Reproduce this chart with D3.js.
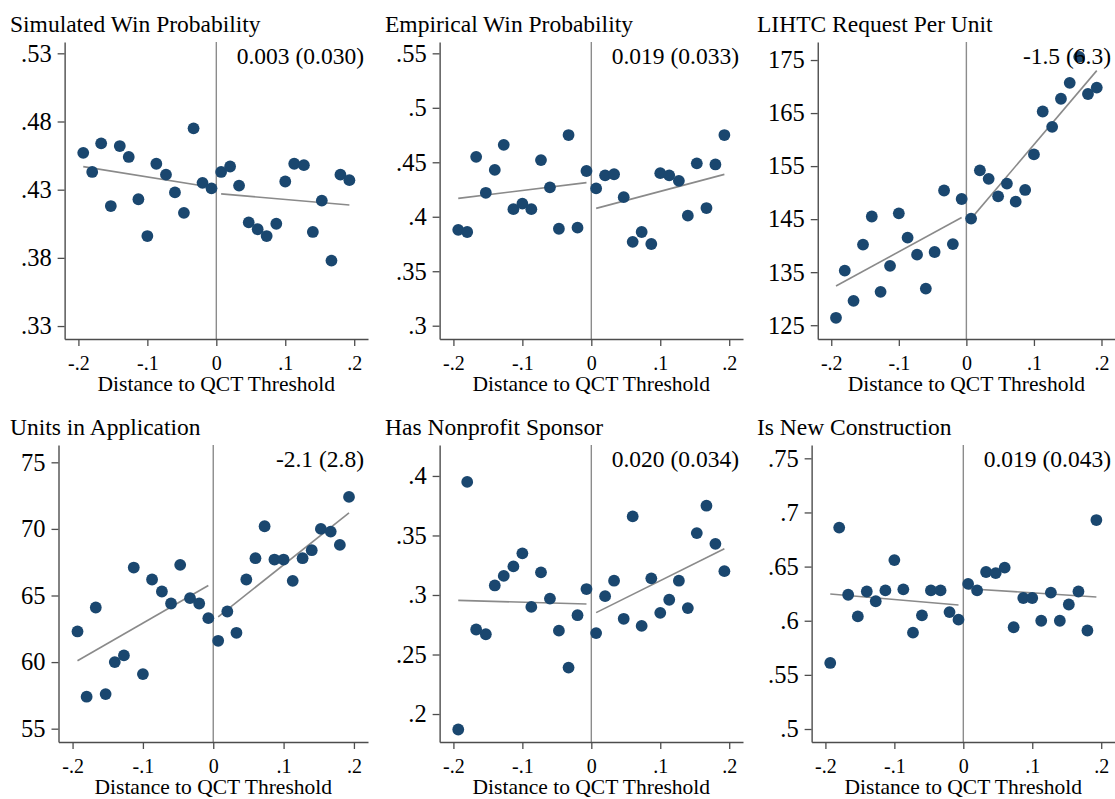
<!DOCTYPE html>
<html>
<head>
<meta charset="utf-8">
<script src="https://cdn.jsdelivr.net/npm/d3@7"></script>
<style>
  html, body { margin: 0; padding: 0; background: #fff; }
  svg { display: block; }
  text { font-family: "Liberation Serif", "Times New Roman", serif; fill: #000; }
</style>
</head>
<body>
<svg id="chart" width="1115" height="799"></svg>
<script>
// ---------------- DATA ----------------
const xBins = [-0.193, -0.180, -0.167, -0.153, -0.140, -0.127, -0.113, -0.100, -0.087, -0.073,
               -0.060, -0.047, -0.033, -0.020, -0.007, 0.007, 0.020, 0.033, 0.047, 0.060,
               0.073, 0.087, 0.100, 0.113, 0.127, 0.140, 0.153, 0.167, 0.180, 0.193];
const xTicks = [-0.2, -0.1, 0, 0.1, 0.2];
const xDomain = [-0.22, 0.22];
const xTitle = "Distance to QCT Threshold";

const titles = ["Simulated Win Probability", "Empirical Win Probability", "LIHTC Request Per Unit",
                "Units in Application", "Has Nonprofit Sponsor", "Is New Construction"];
const estimates = ["0.003 (0.030)", "0.019 (0.033)", "-1.5 (6.3)",
                   "-2.1 (2.8)", "0.020 (0.034)", "0.019 (0.043)"];

const simWinProb = [0.457, 0.443, 0.464, 0.418, 0.462, 0.454, 0.423, 0.396, 0.449, 0.441,
                    0.428, 0.413, 0.475, 0.435, 0.431, 0.443, 0.447, 0.433, 0.406, 0.401,
                    0.396, 0.405, 0.436, 0.449, 0.448, 0.399, 0.422, 0.378, 0.441, 0.437];
const empWinProb = [0.388, 0.386, 0.455, 0.422, 0.443, 0.466, 0.407, 0.412, 0.407, 0.452,
                    0.427, 0.389, 0.475, 0.390, 0.442, 0.426, 0.438, 0.439, 0.418, 0.377,
                    0.386, 0.375, 0.440, 0.438, 0.433, 0.401, 0.449, 0.408, 0.448, 0.475];
const lihtcRequest = [126.4, 135.3, 129.6, 140.2, 145.5, 131.3, 136.2, 146.1, 141.5, 138.3,
                      131.9, 138.8, 150.4, 140.3, 148.8, 145.1, 154.2, 152.6, 149.3, 151.7,
                      148.3, 150.5, 157.2, 165.3, 162.4, 167.7, 170.7, 175.6, 168.6, 169.8];
const unitsApp = [62.3, 57.4, 64.1, 57.6, 60.0, 60.5, 67.1, 59.1, 66.2, 65.3,
                  64.4, 67.3, 64.8, 64.4, 63.3, 61.6, 63.8, 62.2, 66.2, 67.8,
                  70.2, 67.7, 67.7, 66.1, 67.8, 68.4, 70.0, 69.8, 68.8, 72.4];
const nonprofit = [0.187, 0.395, 0.271, 0.267, 0.308, 0.316, 0.324, 0.335, 0.290, 0.319,
                   0.297, 0.270, 0.239, 0.283, 0.305, 0.268, 0.299, 0.312, 0.280, 0.366,
                   0.274, 0.314, 0.285, 0.296, 0.312, 0.289, 0.352, 0.375, 0.343, 0.320];
const newConstruction = [0.561, 0.686, 0.624, 0.604, 0.627, 0.618, 0.628, 0.656, 0.629, 0.589,
                         0.605, 0.628, 0.628, 0.608, 0.601, 0.634, 0.628, 0.645, 0.644, 0.649,
                         0.594, 0.621, 0.621, 0.600, 0.626, 0.600, 0.615, 0.627, 0.591, 0.693];

// linear fit end values: [left at first bin, left at last bin below 0, right at first bin above 0, right at last bin]
const fitSim = [0.4469, 0.4318, 0.4269, 0.4188];
const fitEmp = [0.4169, 0.4313, 0.4077, 0.4389];
const fitLihtc = [132.4, 145.3, 145.1, 173.0];
const fitUnits = [60.1, 65.75, 63.4, 71.2];
const fitNonprofit = [0.2955, 0.2924, 0.2852, 0.3389];
const fitNewCon = [0.6247, 0.6145, 0.6296, 0.6219];

const yTicksSim = [0.33, 0.38, 0.43, 0.48, 0.53];
const yTicksEmp = [0.3, 0.35, 0.4, 0.45, 0.5, 0.55];
const yTicksLihtc = [125, 135, 145, 155, 165, 175];
const yTicksUnits = [55, 60, 65, 70, 75];
const yTicksNonprofit = [0.2, 0.25, 0.3, 0.35, 0.4];
const yTicksNewCon = [0.5, 0.55, 0.6, 0.65, 0.7, 0.75];

const yDomSim = [0.3205, 0.5383];
const yDomEmp = [0.2878, 0.5604];
const yDomLihtc = [122.4, 178.4];
const yDomUnits = [54.0, 76.3];
const yDomNonprofit = [0.1765, 0.426];
const yDomNewCon = [0.488, 0.7623];

const panels = [
  { title: titles[0], est: estimates[0], y: simWinProb, fit: fitSim, ticks: yTicksSim, dom: yDomSim },
  { title: titles[1], est: estimates[1], y: empWinProb, fit: fitEmp, ticks: yTicksEmp, dom: yDomEmp },
  { title: titles[2], est: estimates[2], y: lihtcRequest, fit: fitLihtc, ticks: yTicksLihtc, dom: yDomLihtc },
  { title: titles[3], est: estimates[3], y: unitsApp, fit: fitUnits, ticks: yTicksUnits, dom: yDomUnits },
  { title: titles[4], est: estimates[4], y: nonprofit, fit: fitNonprofit, ticks: yTicksNonprofit, dom: yDomNonprofit },
  { title: titles[5], est: estimates[5], y: newConstruction, fit: fitNewCon, ticks: yTicksNewCon, dom: yDomNewCon }
];

// ---------------- LAYOUT ----------------
const cellX = [0, 375, 747];
const rowY = [0, 403];
const plotW = 368, plotTop = 42, plotBottom = 339;
const navy = "#1a476f";
const axisCol = "#4d4d4d";
const fmt = d => {
  if (d === 0) return "0";
  let s = String(+d.toFixed(4));
  return s.replace(/^(-?)0\./, "$1.");
};

const svg = d3.select("#chart");

function textWidth(str, size) {
  const t = svg.append("text").attr("font-size", size).text(str);
  const w = t.node().getComputedTextLength();
  t.remove();
  return w;
}

panels.forEach((p, i) => {
  const col = i % 3, row = Math.floor(i / 3);
  const x0 = cellX[col], y0 = rowY[row];
  const g = svg.append("g").attr("transform", `translate(0,${y0})`);

  const labW = d3.max(p.ticks, t => textWidth(fmt(t), 24.5));
  const left = x0 + 21 + labW + 13;
  const right = x0 + plotW;

  const x = d3.scaleLinear().domain(xDomain).range([left, right]);
  const y = d3.scaleLinear().domain(p.dom).range([plotBottom, plotTop]);

  // zero line
  g.append("line")
    .attr("x1", x(0)).attr("x2", x(0))
    .attr("y1", plotTop).attr("y2", plotBottom)
    .attr("stroke", "#8c8c8c").attr("stroke-width", 1.4);

  // fit lines
  const leftX = xBins.filter(v => v < 0), rightX = xBins.filter(v => v > 0);
  const fitSegs = [
    [[d3.min(leftX), p.fit[0]], [d3.max(leftX), p.fit[1]]],
    [[d3.min(rightX), p.fit[2]], [d3.max(rightX), p.fit[3]]]
  ];
  const line = d3.line().x(d => x(d[0])).y(d => y(d[1]));
  g.selectAll("path.fit").data(fitSegs).enter().append("path")
    .attr("class", "fit")
    .attr("d", line)
    .attr("fill", "none").attr("stroke", "#8a8a8a").attr("stroke-width", 1.6);

  // dots
  g.selectAll("circle").data(p.y).enter().append("circle")
    .attr("cx", (d, j) => x(xBins[j]))
    .attr("cy", d => y(d))
    .attr("r", 5.9)
    .attr("fill", navy);

  // axes
  const yAxis = d3.axisLeft(y).tickValues(p.ticks).tickFormat(fmt).tickSize(7).tickSizeOuter(0).tickPadding(6);
  const ya = g.append("g").attr("transform", `translate(${left},0)`).call(yAxis);
  ya.selectAll("text").attr("font-size", 24.5).attr("font-family", '"Liberation Serif", serif').attr("fill", "#000");

  const xAxis = d3.axisBottom(x).tickValues(xTicks).tickFormat(fmt).tickSize(7).tickSizeOuter(0).tickPadding(4);
  const xa = g.append("g").attr("transform", `translate(0,${plotBottom})`).call(xAxis);
  xa.selectAll("text").attr("font-size", 20).attr("font-family", '"Liberation Serif", serif').attr("fill", "#000")
    .attr("dy", null).attr("y", 31);

  [ya, xa].forEach(a => {
    a.select(".domain").attr("stroke", axisCol).attr("stroke-width", 1.4);
    a.selectAll(".tick line").attr("stroke", axisCol).attr("stroke-width", 1.3);
  });

  // title
  g.append("text").attr("x", x0 + 10).attr("y", 32)
    .attr("font-size", 23.5).text(p.title);

  // estimate annotation
  g.append("text").attr("x", right - 4).attr("y", 64)
    .attr("text-anchor", "end").attr("font-size", 23.5).text(p.est);

  // x title
  g.append("text").attr("x", x(0)).attr("y", 391)
    .attr("text-anchor", "middle").attr("font-size", 21.5).text(xTitle);
});
</script>
</body>
</html>
